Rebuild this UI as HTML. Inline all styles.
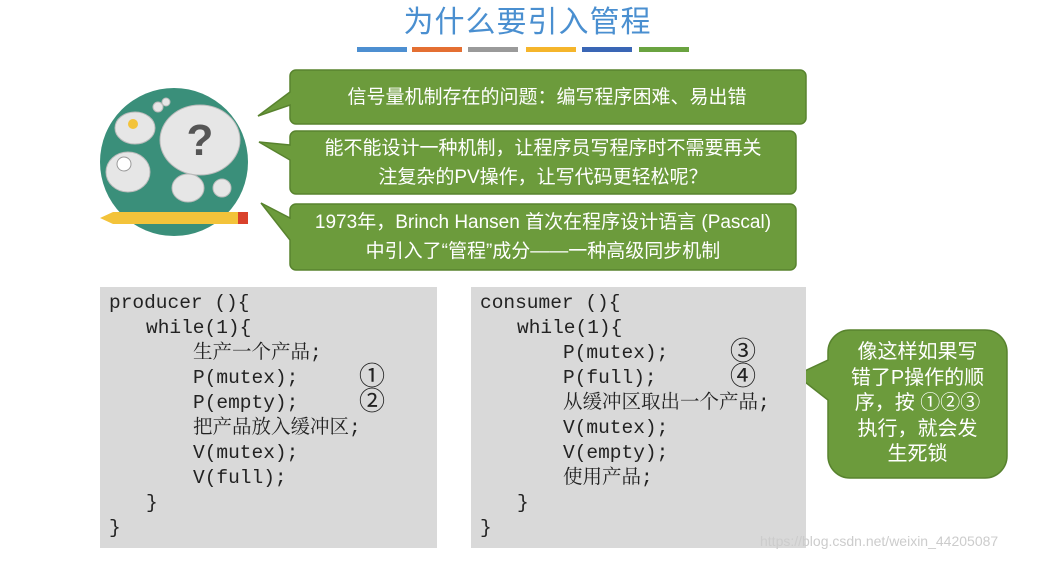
<!DOCTYPE html>
<html><head><meta charset="utf-8"><style>
body{margin:0;width:1043px;height:561px;background:#fff;position:relative;overflow:hidden;font-family:"Liberation Sans","Noto Sans CJK SC",sans-serif}
.abs{position:absolute}
.title{left:0;width:1055px;text-align:center;top:-3px;font-size:30px;color:#4a8fd0;letter-spacing:1px}
.bar{top:47px;height:5px;width:50px}
.code{background:#d9d9d9;font-family:"Liberation Mono","Noto Serif CJK SC",monospace;font-size:19.5px;color:#222}
.code div{position:absolute;white-space:pre;line-height:24px;height:24px}
.num{font-family:"Liberation Sans","Noto Sans CJK SC",sans-serif;font-size:26px}
.gt{color:#fff;font-size:19px;text-align:center;line-height:29px;display:flex;align-items:center;justify-content:center}
</style></head><body>
<div class="abs title">为什么要引入管程</div>
<div class="abs bar" style="left:357px;background:#4d8fd1"></div>
<div class="abs bar" style="left:412px;background:#e46f32"></div>
<div class="abs bar" style="left:468px;background:#9a9a9a"></div>
<div class="abs bar" style="left:526px;background:#f5b52b"></div>
<div class="abs bar" style="left:582px;background:#3a66b5"></div>
<div class="abs bar" style="left:639px;background:#6aa340"></div>

<svg class="abs" style="left:0;top:0" width="1043" height="561">
 <circle cx="174" cy="162" r="74" fill="#3a8f7a"/>
 <g fill="#e6e6e6" stroke="#bbb">
  <ellipse cx="200" cy="140" rx="40" ry="35"/>
  <ellipse cx="135" cy="128" rx="20" ry="16"/>
  <ellipse cx="128" cy="172" rx="22" ry="20"/>
  <ellipse cx="188" cy="188" rx="16" ry="14"/>
  <circle cx="222" cy="188" r="9"/>
  <circle cx="158" cy="107" r="5"/><circle cx="166" cy="102" r="4"/>
 </g>
 <text x="200" y="155" font-size="44" font-family="Liberation Sans" font-weight="bold" fill="#555" text-anchor="middle">?</text>
 <circle cx="133" cy="124" r="5" fill="#f3c33a"/>
 <circle cx="124" cy="164" r="7" fill="#fff" stroke="#999"/>
 <polygon points="100,218 113,212 240,212 240,224 113,224" fill="#f3c33a"/>
 <rect x="238" y="212" width="10" height="12" fill="#d9412b"/>
 <g fill="#6c9b3c" stroke="#58832e" stroke-width="1.5">
  <path d="M296,70 H800 a6,6 0 0 1 6,6 V118 a6,6 0 0 1 -6,6 H296 a6,6 0 0 1 -6,-6 V105 L258,116 L290,92 V76 a6,6 0 0 1 6,-6Z"/>
  <path d="M296,131 H790 a6,6 0 0 1 6,6 V188 a6,6 0 0 1 -6,6 H296 a6,6 0 0 1 -6,-6 V160 L259,142 L290,145 V137 a6,6 0 0 1 6,-6Z"/>
  <path d="M296,204 H790 a6,6 0 0 1 6,6 V264 a6,6 0 0 1 -6,6 H296 a6,6 0 0 1 -6,-6 V240 L261,203 L290,218 V210 a6,6 0 0 1 6,-6Z"/>
  <path d="M850,330 H985 a22,22 0 0 1 22,22 V456 a22,22 0 0 1 -22,22 H850 a22,22 0 0 1 -22,-22 V400 L796,375 L828,360 V352 a22,22 0 0 1 22,-22Z"/>
 </g>
</svg>
<div class="abs gt" style="left:292px;top:70px;width:510px;height:54px">信号量机制存在的问题：编写程序困难、易出错</div>
<div class="abs gt" style="left:292px;top:131px;width:502px;height:63px">能不能设计一种机制，让程序员写程序时不需要再关<br>注复杂的PV操作，让写代码更轻松呢？</div>
<div class="abs gt" style="left:292px;top:204px;width:502px;height:66px">1973年，Brinch Hansen 首次在程序设计语言 (Pascal)<br>中引入了“管程”成分——一种高级同步机制</div>
<div class="abs gt" style="left:830px;top:336px;width:175px;height:136px;font-size:20px;line-height:25.5px">像这样如果写<br>错了P操作的顺<br>序，按 ①②③<br>执行，就会发<br>生死锁</div>

<div class="abs code" style="left:100px;top:287px;width:337px;height:261px">
<div style="left:9px;top:4px">producer (){</div>
<div style="left:46px;top:29px">while(1){</div>
<div style="left:93px;top:54px">生产一个产品;</div>
<div style="left:93px;top:79px">P(mutex);</div>
<div style="left:93px;top:104px">P(empty);</div>
<div style="left:93px;top:129px">把产品放入缓冲区;</div>
<div style="left:93px;top:154px">V(mutex);</div>
<div style="left:93px;top:179px">V(full);</div>
<div style="left:46px;top:204px">}</div>
<div style="left:9px;top:229px">}</div>
<div class="num" style="left:259px;top:77px">①</div>
<div class="num" style="left:259px;top:102px">②</div>
</div>

<div class="abs code" style="left:471px;top:287px;width:335px;height:261px">
<div style="left:9px;top:4px">consumer (){</div>
<div style="left:46px;top:29px">while(1){</div>
<div style="left:92px;top:54px">P(mutex);</div>
<div style="left:92px;top:79px">P(full);</div>
<div style="left:92px;top:104px">从缓冲区取出一个产品;</div>
<div style="left:92px;top:129px">V(mutex);</div>
<div style="left:92px;top:154px">V(empty);</div>
<div style="left:92px;top:179px">使用产品;</div>
<div style="left:46px;top:204px">}</div>
<div style="left:9px;top:229px">}</div>
<div class="num" style="left:259px;top:52px">③</div>
<div class="num" style="left:259px;top:77px">④</div>
</div>
<div class="abs" style="left:760px;top:533px;font-size:14px;color:#ccc">https://blog.csdn.net/weixin_44205087</div>
</body></html>
